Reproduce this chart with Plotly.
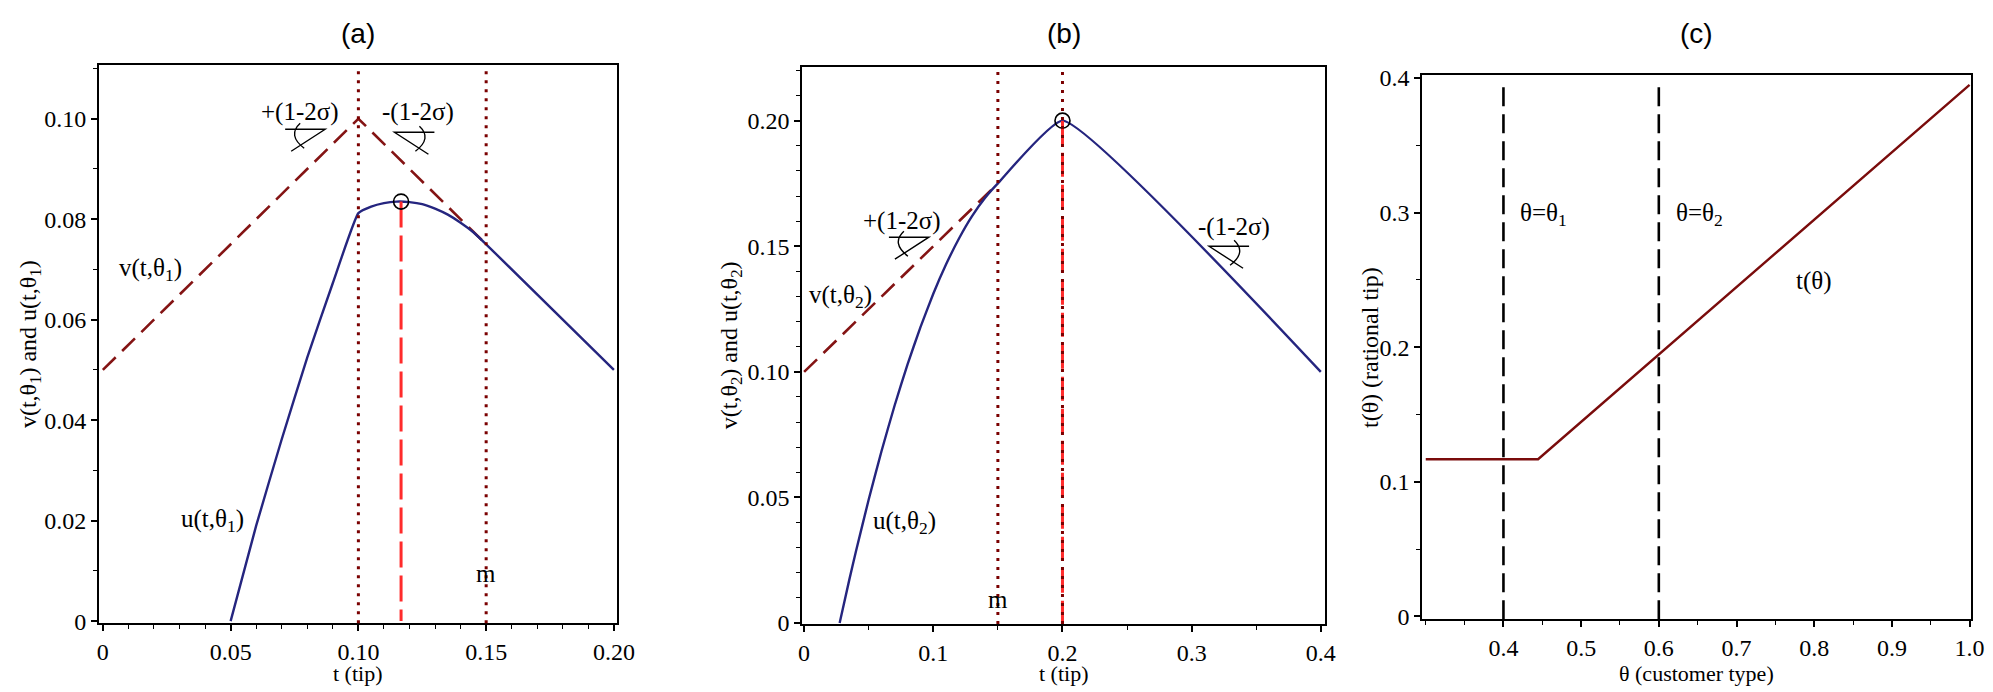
import plotly.graph_objects as go

# --- panel (a): theta_1 ---
A_T_V = [0.0, 0.10, 0.15]
A_V = [0.05, 0.10, 0.075]
A_T_U = [0.05, 0.06, 0.07, 0.08, 0.09, 0.10, 0.105, 0.11, 0.115, 0.12, 0.125,
         0.13, 0.135, 0.14, 0.145, 0.15, 0.20]
A_U = [0.0, 0.0190, 0.0362, 0.0525, 0.0673, 0.0812, 0.0825, 0.0832, 0.0835, 0.0834,
       0.0830, 0.0821, 0.0809, 0.0793, 0.0774, 0.0750, 0.050]
A_PEAK_T = [0.1167]
A_PEAK_U = [0.0835]
A_DOTTED = [0.10, 0.15]

# --- panel (b): theta_2 ---
B_T_V = [0.0, 0.15]
B_V = [0.10, 0.175]
B_T_U = [0.0275, 0.035, 0.04, 0.05, 0.06, 0.07, 0.08, 0.09, 0.10, 0.11, 0.12,
         0.13, 0.14, 0.15, 0.20, 0.40]
B_U = [0.0, 0.0173, 0.0283, 0.0492, 0.0686, 0.0865, 0.1029, 0.1177, 0.1311, 0.1429,
       0.1532, 0.1620, 0.1692, 0.175, 0.20, 0.10]
B_PEAK_T = [0.20]
B_PEAK_U = [0.20]
B_DOTTED = [0.15, 0.20]

# --- panel (c): rational tip ---
C_THETA = [0.30, 0.4446, 1.0]
C_TIP = [0.1167, 0.1167, 0.395]
C_MARKS = [0.40, 0.60]

# tick labels
A_XTICKS = [0, 0.05, 0.10, 0.15, 0.20]
A_XTEXT = ["0", "0.05", "0.10", "0.15", "0.20"]
A_YTICKS = [0, 0.02, 0.04, 0.06, 0.08, 0.10]
A_YTEXT = ["0", "0.02", "0.04", "0.06", "0.08", "0.10"]
B_XTICKS = [0, 0.1, 0.2, 0.3, 0.4]
B_XTEXT = ["0", "0.1", "0.2", "0.3", "0.4"]
B_YTICKS = [0, 0.05, 0.10, 0.15, 0.20]
B_YTEXT = ["0", "0.05", "0.10", "0.15", "0.20"]
C_XTICKS = [0.4, 0.5, 0.6, 0.7, 0.8, 0.9, 1.0]
C_XTEXT = ["0.4", "0.5", "0.6", "0.7", "0.8", "0.9", "1.0"]
C_YTICKS = [0, 0.1, 0.2, 0.3, 0.4]
C_YTEXT = ["0", "0.1", "0.2", "0.3", "0.4"]

W, H = 1993, 692
BLUE = "#25257f"
DARKRED = "#841414"
DOTRED = "#7a0000"
RED = "#ff2b2b"
SERIF = "Liberation Serif, Times New Roman, serif"

fig = go.Figure()

# panel (a)
fig.add_trace(go.Scatter(x=A_T_V, y=A_V, mode="lines", xaxis="x", yaxis="y",
                         line=dict(color=DARKRED, width=2.6, dash="18px,9px")))
fig.add_trace(go.Scatter(x=A_T_U, y=A_U, mode="lines", xaxis="x", yaxis="y",
                         line=dict(color=BLUE, width=2.4, shape="spline", smoothing=0.4)))
for t in A_DOTTED:
    fig.add_shape(type="line", xref="x", yref="y domain", x0=t, x1=t, y0=0, y1=1,
                  line=dict(color=DOTRED, width=3, dash="3px,6px"))
fig.add_trace(go.Scatter(x=A_PEAK_T * 2, y=[A_PEAK_U[0], 0], mode="lines", xaxis="x", yaxis="y",
                         line=dict(color=RED, width=3, dash="26px,8px")))
fig.add_trace(go.Scatter(x=A_PEAK_T, y=A_PEAK_U, mode="markers", xaxis="x", yaxis="y",
                         marker=dict(symbol="circle-open", size=15, color="black",
                                     line=dict(width=1.6, color="black"))))

# panel (b)
fig.add_trace(go.Scatter(x=B_T_V, y=B_V, mode="lines", xaxis="x2", yaxis="y2",
                         line=dict(color=DARKRED, width=2.6, dash="18px,9px")))
fig.add_trace(go.Scatter(x=B_T_U, y=B_U, mode="lines", xaxis="x2", yaxis="y2",
                         line=dict(color=BLUE, width=2.4, shape="spline", smoothing=0.4)))
for t in B_DOTTED:
    fig.add_shape(type="line", xref="x2", yref="y2 domain", x0=t, x1=t, y0=0, y1=1,
                  line=dict(color=DOTRED, width=3, dash="3px,6px"))
fig.add_trace(go.Scatter(x=B_PEAK_T * 2, y=[B_PEAK_U[0], 0], mode="lines", xaxis="x2", yaxis="y2",
                         line=dict(color=RED, width=3, dash="24px,8px")))
fig.add_trace(go.Scatter(x=B_PEAK_T, y=B_PEAK_U, mode="markers", xaxis="x2", yaxis="y2",
                         marker=dict(symbol="circle-open", size=15, color="black",
                                     line=dict(width=1.6, color="black"))))

# panel (c)
fig.add_trace(go.Scatter(x=C_THETA, y=C_TIP, mode="lines", xaxis="x3", yaxis="y3",
                         line=dict(color="#7a0c0c", width=2.4)))
for th in C_MARKS:
    fig.add_shape(type="line", xref="x3", yref="y3 domain", x0=th, x1=th, y0=0, y1=0.985,
                  line=dict(color="black", width=2.6, dash="19px,8px"))


# small angle glyphs drawn next to the slopes (pixel offsets from vertex)
def angle_glyph(xref, yref, x, y, side):
    s = 1 if side == "right" else -1
    path = (f"M {-40*s},0 L 0,0 L {-34*s},-22 "
            f"M {-25*s},6 Q {-38*s},-6 {-21*s},-19")
    fig.add_shape(type="path", xref=xref, yref=yref, xsizemode="pixel", ysizemode="pixel",
                  xanchor=x, yanchor=y, path=path, line=dict(color="black", width=1.4))


angle_glyph("x", "y", 0.0870, 0.0979, "right")
angle_glyph("x", "y", 0.1141, 0.0973, "left")
angle_glyph("x2", "y2", 0.0966, 0.1536, "right")
angle_glyph("x2", "y2", 0.3135, 0.1500, "left")

labels = [
    ("x", "y", 0.0771, 0.1013, "+(1-2σ)", "center"),
    ("x", "y", 0.1235, 0.1013, "-(1-2σ)", "center"),
    ("x", "y", 0.0187, 0.0700, "v(t,θ<sub>1</sub>)", "center"),
    ("x", "y", 0.0431, 0.0200, "u(t,θ<sub>1</sub>)", "center"),
    ("x", "y", 0.1500, 0.0094, "m", "center"),
    ("x2", "y2", 0.0756, 0.1600, "+(1-2σ)", "center"),
    ("x2", "y2", 0.3326, 0.1577, "-(1-2σ)", "center"),
    ("x2", "y2", 0.0285, 0.1299, "v(t,θ<sub>2</sub>)", "center"),
    ("x2", "y2", 0.0780, 0.0401, "u(t,θ<sub>2</sub>)", "center"),
    ("x2", "y2", 0.1500, 0.0093, "m", "center"),
    ("x3", "y3", 0.419, 0.2986, "θ=θ<sub>1</sub>", "left"),
    ("x3", "y3", 0.620, 0.2986, "θ=θ<sub>2</sub>", "left"),
    ("x3", "y3", 0.800, 0.2490, "t(θ)", "center"),
]
for xr, yr, x, y, txt, anc in labels:
    fig.add_annotation(xref=xr, yref=yr, x=x, y=y, text=txt, showarrow=False,
                       xanchor=anc, yanchor="middle", font=dict(family=SERIF, size=25, color="black"))

# panel titles and axis titles
dom_a = [88 / W, 612 / W]
dom_b = [799 / W, 1328 / W]
dom_c = [1426 / W, 1981 / W]
for dom, txt in [(dom_a, "(a)"), (dom_b, "(b)"), (dom_c, "(c)")]:
    fig.add_annotation(xref="paper", yref="paper", x=sum(dom) / 2, y=1 - 16 / H, text=txt,
                       showarrow=False, xanchor="center", yanchor="middle",
                       font=dict(family="Liberation Sans, Arial, sans-serif", size=28, color="black"))
for dom, txt in [(dom_a, "t (tip)"), (dom_b, "t (tip)"), (dom_c, "θ (customer type)")]:
    fig.add_annotation(xref="paper", yref="paper", x=sum(dom) / 2, y=0, text=txt,
                       showarrow=False, xanchor="center", yanchor="bottom",
                       font=dict(family=SERIF, size=22, color="black"))
for xp, yp, txt in [(18, 337, "v(t,θ<sub>1</sub>) and u(t,θ<sub>1</sub>)"),
                    (727, 338, "v(t,θ<sub>2</sub>) and u(t,θ<sub>2</sub>)"),
                    (1373, 340, "t(θ) (rational tip)")]:
    fig.add_annotation(xref="paper", yref="paper", x=xp / W, y=1 - yp / H, text=txt,
                       showarrow=False, textangle=-90, xanchor="center", yanchor="middle",
                       font=dict(family=SERIF, size=24, color="black"))

axis_style = dict(showline=True, linecolor="black", linewidth=2, mirror=True,
                  showgrid=False, zeroline=False, ticks="outside", ticklen=6,
                  tickwidth=1.5, tickcolor="black", tickmode="array",
                  tickfont=dict(family=SERIF, size=24, color="black"))


def minor(d, t0=0):
    return dict(ticks="outside", ticklen=4, tickwidth=1.2, tickcolor="black", dtick=d, tick0=t0)


fig.update_layout(
    width=W, height=H, showlegend=False,
    margin=dict(l=0, r=0, t=0, b=0),
    paper_bgcolor="white", plot_bgcolor="white",
    xaxis=dict(domain=dom_a, anchor="y", range=[-0.0015, 0.2013], tickvals=A_XTICKS,
               ticktext=A_XTEXT, minor=minor(0.01), **axis_style),
    yaxis=dict(domain=[1 - 625 / H, 1 - 49 / H], anchor="x", range=[-0.0004, 0.1106],
               tickvals=A_YTICKS, ticktext=A_YTEXT, minor=minor(0.01), **axis_style),
    xaxis2=dict(domain=dom_b, anchor="y2", range=[-0.0015, 0.4035], tickvals=B_XTICKS,
                ticktext=B_XTEXT, minor=minor(0.05), **axis_style),
    yaxis2=dict(domain=[1 - 626 / H, 1 - 51 / H], anchor="x2", range=[-0.0004, 0.2212],
                tickvals=B_YTICKS, ticktext=B_YTEXT, minor=minor(0.01), **axis_style),
    xaxis3=dict(domain=dom_c, anchor="y3", range=[0.2955, 1.002], tickvals=C_XTICKS,
                ticktext=C_XTEXT, minor=minor(0.05, 0.3), **axis_style),
    yaxis3=dict(domain=[1 - 621 / H, 1 - 59 / H], anchor="x3", range=[-0.0022, 0.4022],
                tickvals=C_YTICKS, ticktext=C_YTEXT, minor=minor(0.05), **axis_style),
)

fig.write_html("out.html")
